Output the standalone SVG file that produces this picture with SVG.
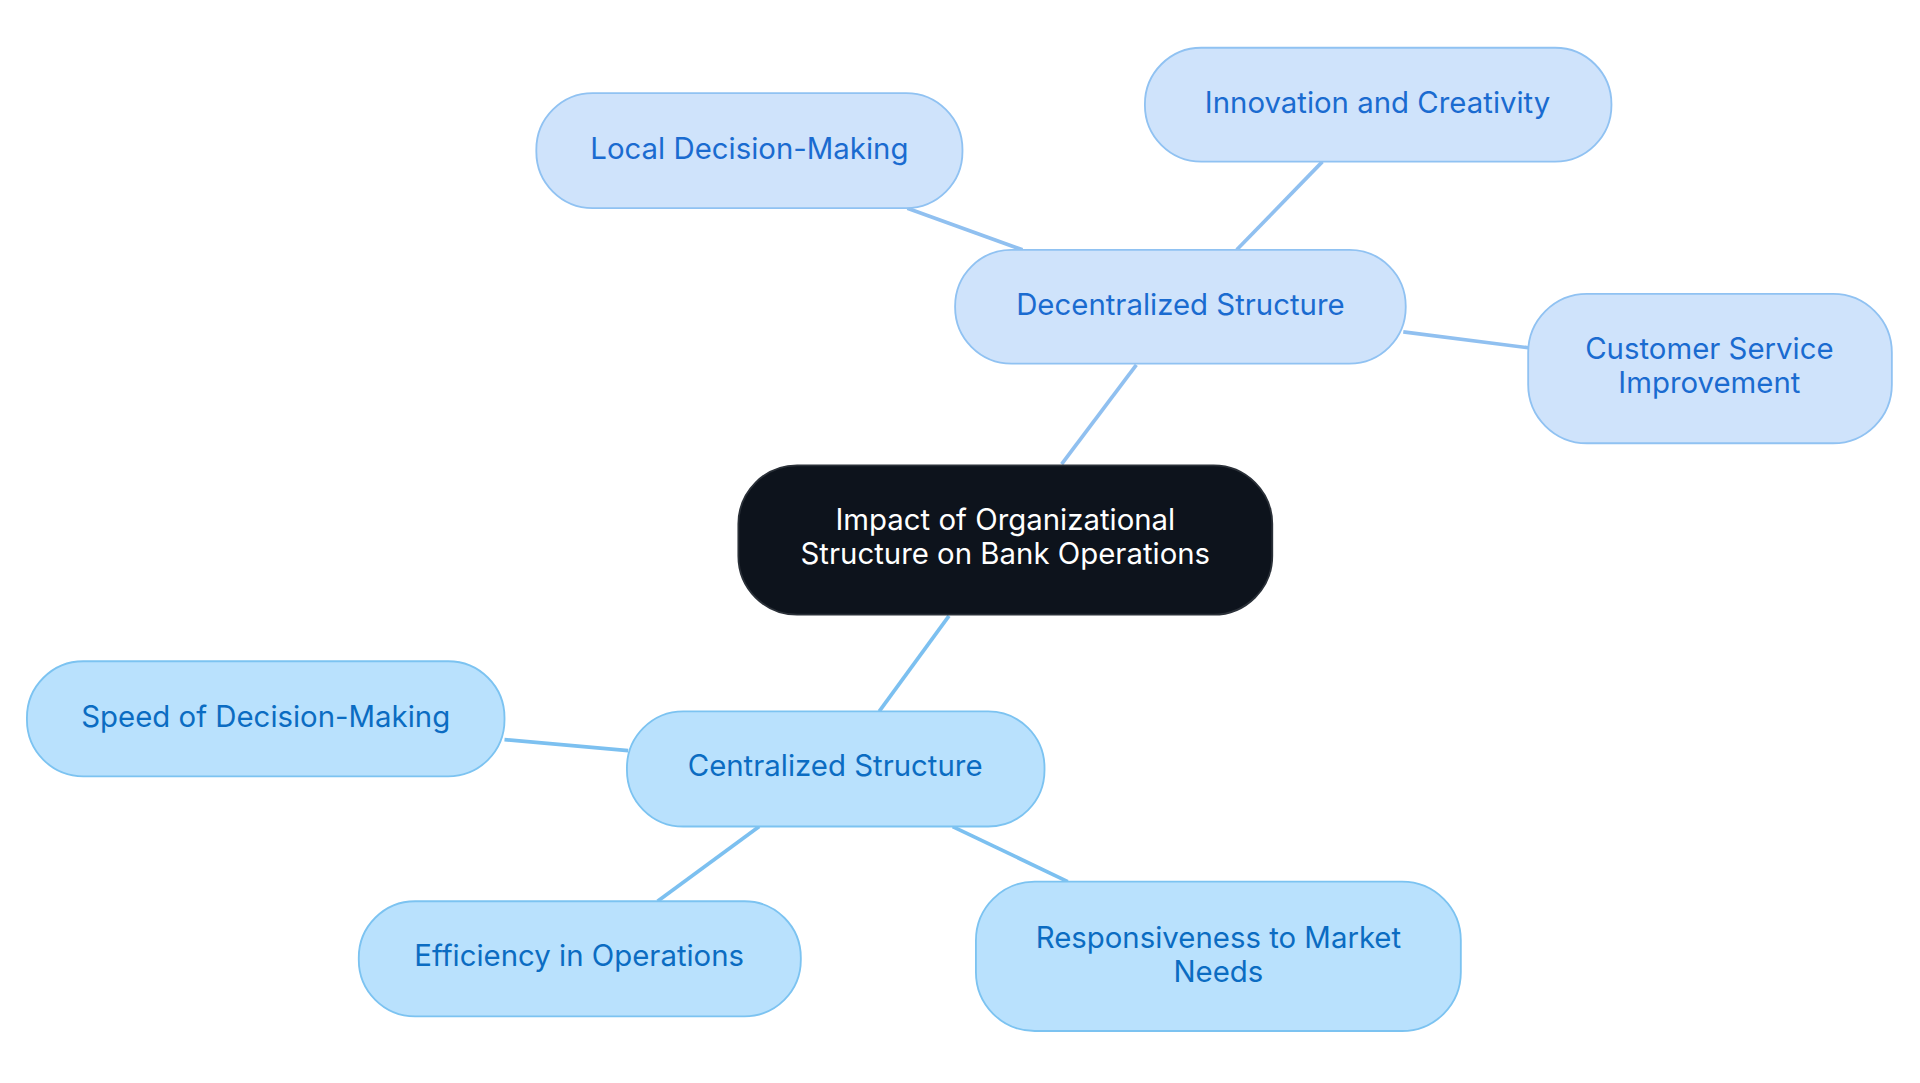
<svg xmlns="http://www.w3.org/2000/svg" width="1920" height="1083" viewBox="0 0 1920 1083">
<style>
text{font-family:Inter,"Noto Sans",sans-serif;font-size:24px;text-anchor:middle}
.d rect{fill:#cfe3fb;stroke:#90c2f2;stroke-width:1.5}
.d text{fill:#1a6bd0}
.c rect{fill:#b9e1fd;stroke:#7cc3f1;stroke-width:1.5}
.c text{fill:#0b6cc2}
.ed line{stroke:#90c0f0;stroke-width:3}
.ec line{stroke:#7cc0f0;stroke-width:3}
</style>
<rect width="1920" height="1083" fill="#fff"/>
<g transform="scale(1.2245)">
<g id="connectors">
<g class="ed">
<line x1="867" y1="379" x2="928" y2="298"/>
<line x1="741" y1="170" x2="835" y2="204"/>
<line x1="1080" y1="132" x2="1010" y2="204"/>
<line x1="1146" y1="271" x2="1248" y2="284"/>
</g>
<g class="ec">
<line x1="775" y1="503" x2="718" y2="581"/>
<line x1="412" y1="604" x2="513" y2="613"/>
<line x1="620" y1="675" x2="537" y2="736"/>
<line x1="778" y1="675" x2="872" y2="720"/>
</g>
</g>
<g id="root"><rect x="603" y="380" width="436" height="122" rx="48" fill="#0d131c" stroke="#2a3038" stroke-width="1.5"/>
<text x="821" y="433" fill="#fff">Impact of Organizational</text><text x="821" y="461" fill="#fff">Structure on Bank Operations</text></g>
<g id="decentralized" class="d"><rect x="780" y="204" width="368" height="93" rx="46"/><text x="964" y="257">Decentralized Structure</text></g>
<g id="local" class="d"><rect x="438" y="76" width="348" height="94" rx="46"/><text x="612" y="130">Local Decision-Making</text></g>
<g id="innovation" class="d"><rect x="935" y="39" width="381" height="93" rx="46"/><text x="1125" y="92">Innovation and Creativity</text></g>
<g id="customer" class="d"><rect x="1248" y="240" width="297" height="122" rx="48"/><text x="1396" y="293">Customer Service</text><text x="1396" y="321">Improvement</text></g>
<g id="centralized" class="c"><rect x="512" y="581" width="341" height="94" rx="46"/><text x="682" y="634">Centralized Structure</text></g>
<g id="speed" class="c"><rect x="22" y="540" width="390" height="94" rx="46"/><text x="217" y="594">Speed of Decision-Making</text></g>
<g id="efficiency" class="c"><rect x="293" y="736" width="361" height="94" rx="46"/><text x="473" y="789">Efficiency in Operations</text></g>
<g id="responsiveness" class="c"><rect x="797" y="720" width="396" height="122" rx="48"/><text x="995" y="774">Responsiveness to Market</text><text x="995" y="802">Needs</text></g>
</g>
</svg>
